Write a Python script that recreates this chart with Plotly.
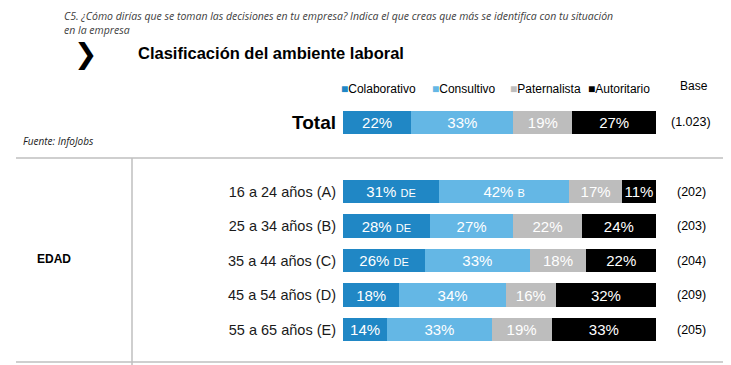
import plotly.graph_objects as go

# ---------------- data ----------------
series_names = ["Colaborativo", "Consultivo", "Paternalista", "Autoritario"]
series_colors = ["#2087C5", "#64B7E5", "#BDBDBD", "#000000"]

total_label = ["Total"]
total_values = {
    "Colaborativo": [22],
    "Consultivo": [33],
    "Paternalista": [19],
    "Autoritario": [27],
}
total_base = "(1.023)"

age_groups = ["16 a 24 años (A)", "25 a 34 años (B)", "35 a 44 años (C)",
              "45 a 54 años (D)", "55 a 65 años (E)"]
colaborativo = [31, 28, 26, 18, 14]
consultivo = [42, 27, 33, 34, 33]
paternalista = [17, 22, 18, 16, 19]
autoritario = [11, 24, 22, 32, 33]
age_values = {
    "Colaborativo": colaborativo,
    "Consultivo": consultivo,
    "Paternalista": paternalista,
    "Autoritario": autoritario,
}
sig_letters = {
    "Colaborativo": ["DE", "DE", "DE", "", ""],
    "Consultivo": ["B", "", "", "", ""],
    "Paternalista": ["", "", "", "", ""],
    "Autoritario": ["", "", "", "", ""],
}
age_base = ["(202)", "(203)", "(204)", "(209)", "(205)"]

question = ("C5. ¿Cómo dirías que se toman las decisiones en tu empresa? Indica el que creas que más se identifica con tu situación<br>"
            "en la empresa")
title = "Clasificación del ambiente laboral"
source = "Fuente: InfoJobs"
group_label = "EDAD"

# ---------------- layout helpers ----------------
OFF = 8                      # page body margin
W, H = 731 - OFF, 365 - OFF
PL, PR, PT, PB = 343, 656, 105, 347   # plot box in window pixels
L, R, T, B = PL - OFF, W - (PR - OFF), PT - OFF, H - (PB - OFF)
PW, PH = PR - PL, PB - PT


def px(x):
    return (x - PL) / PW


def py(y):
    return (PB - y) / PH


BAR_FONT = "Liberation Sans, Arial, sans-serif"
OPEN = "Open Sans, sans-serif"


def label(v, s):
    t = f"{v}%"
    if s:
        t += f" <span style='font-size:11px'>{s}</span>"
    return t


fig = go.Figure()
for name, color in zip(series_names, series_colors):
    fig.add_trace(go.Bar(
        x=total_values[name], y=total_label, orientation="h",
        marker=dict(color=color, line=dict(width=0)),
        text=[label(v, "") for v in total_values[name]],
        textposition="inside", insidetextanchor="middle",
        textfont=dict(color="white", size=15, family=BAR_FONT),
        constraintext="none", cliponaxis=False,
        xaxis="x", yaxis="y", showlegend=False, hoverinfo="skip",
    ))
for name, color in zip(series_names, series_colors):
    fig.add_trace(go.Bar(
        x=age_values[name], y=age_groups, orientation="h",
        marker=dict(color=color, line=dict(width=0)),
        text=[label(v, s) for v, s in zip(age_values[name], sig_letters[name])],
        textposition="inside", insidetextanchor="middle",
        textfont=dict(color="white", size=15, family=BAR_FONT),
        constraintext="none", cliponaxis=False,
        xaxis="x", yaxis="y2", showlegend=False, hoverinfo="skip",
    ))

y1_dom = [py(139.75), min(1.0, py(105.25))]
y2_dom = [max(0.0, py(346.75)), py(174.25)]

fig.update_layout(
    width=W, height=H,
    margin=dict(l=L, r=R, t=T, b=B, pad=0),
    paper_bgcolor="white", plot_bgcolor="white",
    barmode="stack", barnorm="percent", bargap=0.333,
    showlegend=False,
    font=dict(family=BAR_FONT, color="#000000"),
    xaxis=dict(range=[0, 100.001], visible=False, fixedrange=True),
    yaxis=dict(domain=y1_dom, anchor="x", showgrid=False, zeroline=False,
               showline=False, ticks="", ticklabelstandoff=6,
               tickfont=dict(size=19, family=BAR_FONT, color="#000000", weight="bold")),
    yaxis2=dict(domain=y2_dom, anchor="x", showgrid=False, zeroline=False,
                showline=False, ticks="", ticklabelstandoff=6,
                autorange="reversed",
                tickfont=dict(size=14.5, family=BAR_FONT, color="#1a1a1a")),
)

ann = []
# question text
ann.append(dict(text=question, x=px(62), y=py(7), xref="paper", yref="paper",
                xanchor="left", yanchor="top", align="left", showarrow=False,
                font=dict(size=10.5, family=OPEN, color="#404040", style="italic")))
# chevron
ann.append(dict(text="❯", x=px(85), y=py(53), xref="paper", yref="paper",
                xanchor="center", yanchor="middle", showarrow=False,
                font=dict(size=28, family="DejaVu Sans", color="#000000", weight="bold")))
# title
ann.append(dict(text=title, x=px(136), y=py(53), xref="paper", yref="paper",
                xanchor="left", yanchor="middle", showarrow=False,
                font=dict(size=16.5, family=BAR_FONT, color="#000000", weight="bold")))
# source
ann.append(dict(text=source, x=px(21), y=py(141), xref="paper", yref="paper",
                xanchor="left", yanchor="middle", showarrow=False,
                font=dict(size=10, family=OPEN, color="#1a1a1a", style="italic")))
# group label
ann.append(dict(text=group_label, x=px(54), y=py(259), xref="paper", yref="paper",
                xanchor="center", yanchor="middle", showarrow=False,
                font=dict(size=12, family=BAR_FONT, color="#000000", weight="bold")))
# legend (manual)
leg_x = [339, 430, 508, 586]
for name, color, lx in zip(series_names, series_colors, leg_x):
    ann.append(dict(text=f"<span style='color:{color}'>■</span>{name}",
                    x=px(lx), y=py(89), xref="paper", yref="paper",
                    xanchor="left", yanchor="middle", showarrow=False,
                    font=dict(size=12, family=BAR_FONT, color="#000000")))
# base header + values
ann.append(dict(text="Base", x=px(694), y=py(86), xref="paper", yref="paper",
                xanchor="center", yanchor="middle", showarrow=False,
                font=dict(size=12, family=BAR_FONT, color="#000000")))
ann.append(dict(text=total_base, x=px(691), y=total_label[0], xref="paper", yref="y",
                xanchor="center", yanchor="middle", showarrow=False,
                font=dict(size=12.5, family=BAR_FONT, color="#000000")))
for g, b in zip(age_groups, age_base):
    ann.append(dict(text=b, x=px(691), y=g, xref="paper", yref="y2",
                    xanchor="center", yanchor="middle", showarrow=False,
                    font=dict(size=12.5, family=BAR_FONT, color="#000000")))
fig.update_layout(annotations=ann)

# divider lines
line_style = dict(color="#BFBFBF", width=1.5)
fig.add_shape(type="line", xref="paper", yref="paper", x0=px(16), x1=px(731),
              y0=py(158), y1=py(158), line=line_style)
fig.add_shape(type="line", xref="paper", yref="paper", x0=px(16), x1=px(731),
              y0=py(362), y1=py(362), line=line_style)
fig.add_shape(type="line", xref="paper", yref="paper", x0=px(132), x1=px(132),
              y0=py(158), y1=py(365), line=line_style)

fig.write_html("out.html")
